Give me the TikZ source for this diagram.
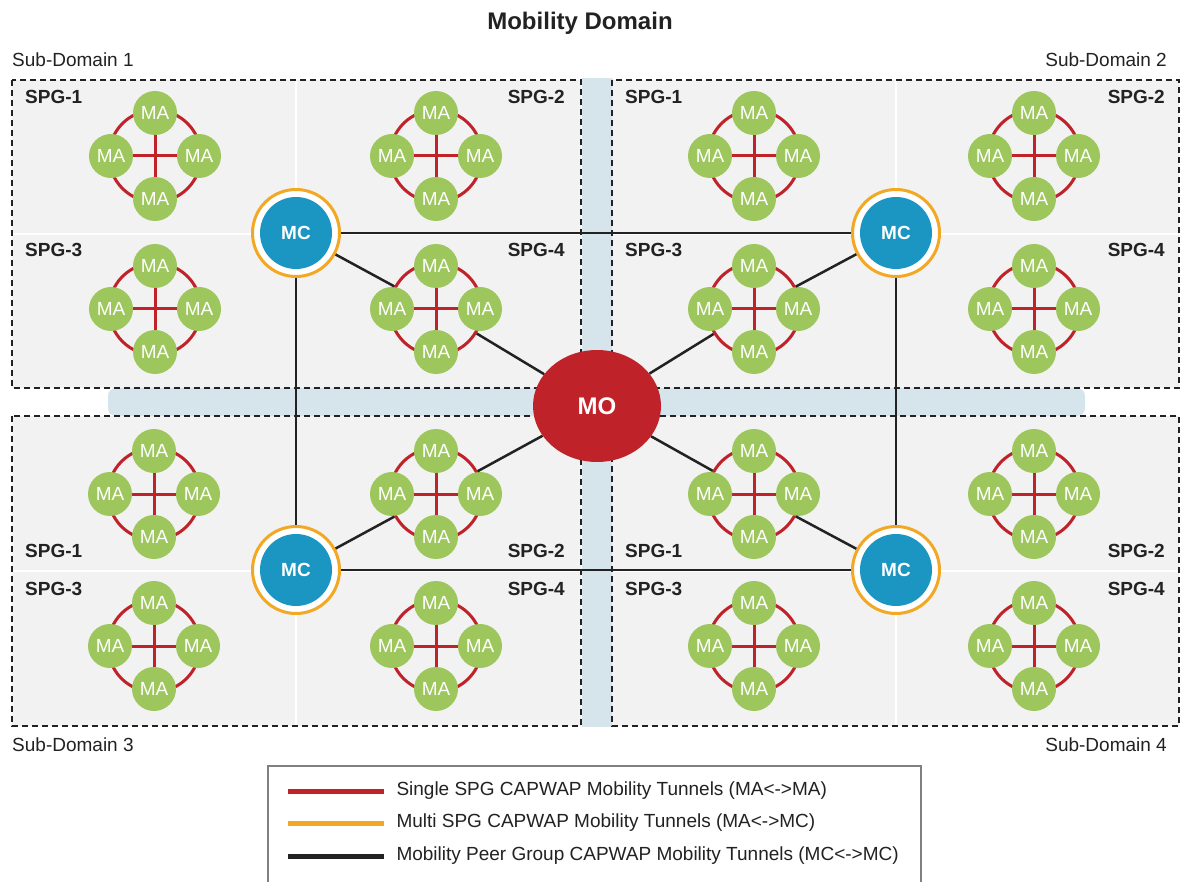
\documentclass[tikz,border=0pt]{standalone}
\usepackage{fontspec}
\setmainfont{Liberation Sans}
\usetikzlibrary{shapes.geometric}

\definecolor{magreen}{HTML}{9DC65C}
\definecolor{mcblue}{HTML}{1B96C3}
\definecolor{mcorange}{HTML}{F3A823}
\definecolor{tunred}{HTML}{BF2229}
\definecolor{bandblue}{HTML}{D6E4EC}
\definecolor{sdgray}{HTML}{F2F2F2}
\definecolor{peerblack}{HTML}{222222}

\newcommand{\fs}[1]{\fontsize{#1}{#1}\selectfont}

\tikzset{
  sdbox/.style={fill=sdgray, draw=peerblack, line width=2.2pt, dash pattern=on 6pt off 4pt},
  divider/.style={draw=white, line width=1.5pt},
  spglabel/.style={font=\fs{19}\bfseries, text=peerblack, inner sep=0pt},
  sdlabel/.style={font=\fs{19}, text=peerblack, inner sep=0pt},
  ring/.style={circle, draw=tunred, line width=3pt, minimum size=92pt, inner sep=0pt},
  ma/.style={circle, fill=magreen, minimum size=44pt, inner sep=0pt, text=white, font=\fs{19}},
  matunnel/.style={draw=tunred, line width=3pt},
  mcring/.style={circle, draw=mcorange, line width=3pt, fill=white, minimum size=87pt, inner sep=0pt},
  mcdisc/.style={circle, fill=mcblue, minimum size=72pt, inner sep=0pt, text=white, font=\fs{19}\bfseries},
  mo/.style={ellipse, fill=tunred, minimum width=128pt, minimum height=112pt, inner sep=0pt, text=white, font=\fs{24}\bfseries},
  peer/.style={draw=peerblack, line width=2.5pt},
}

% one SPG: four MA round a red ring
\newcommand{\spgcluster}[3]{%
  \node[ring] (#1) at (#2,#3) {};
  \node[ma] (#1-t) at (#2,#3-43) {MA};
  \node[ma] (#1-b) at (#2,#3+43) {MA};
  \node[ma] (#1-l) at (#2-44,#3) {MA};
  \node[ma] (#1-r) at (#2+44,#3) {MA};
  \draw[matunnel] (#1-t) -- (#1-b) (#1-l) -- (#1-r);
}

\begin{document}
\begin{tikzpicture}[x=1pt, y=-1pt]
            \clip (0,0) rectangle (1181,882);
            \fill[white] (0,0) rectangle (1181,882);
            \node[font=\fs{24}\bfseries, text=peerblack] (title) at (580,23) {Mobility Domain};
            % bands between the sub-domains
            \fill[bandblue] (582,78) rectangle (612,727);
            \fill[bandblue, rounded corners=8pt] (108,388) rectangle (1085,416);
            % sub-domains
            \draw[sdbox] (12,80) rectangle (581,388);
            \draw[sdbox] (612,80) rectangle (1179,388);
            \draw[sdbox] (12,416) rectangle (581,726);
            \draw[sdbox] (612,416) rectangle (1179,726);
            \draw[divider] (296,81) -- (296,387) (13,234) -- (580,234);
            \draw[divider] (896,81) -- (896,387) (613,234) -- (1178,234);
            \draw[divider] (296,417) -- (296,725) (13,571) -- (580,571);
            \draw[divider] (896,417) -- (896,725) (613,571) -- (1178,571);
            \node[sdlabel, anchor=west] (sd1) at (12,60) {Sub-Domain 1};
            \node[sdlabel, anchor=east] (sd2) at (1167,60) {Sub-Domain 2};
            \node[sdlabel, anchor=west] (sd3) at (12,745) {Sub-Domain 3};
            \node[sdlabel, anchor=east] (sd4) at (1167,745) {Sub-Domain 4};
            % SPG labels
            \node[spglabel, anchor=west] at (25,97) {SPG-1};
            \node[spglabel, anchor=east] at (565,97) {SPG-2};
            \node[spglabel, anchor=west] at (25,250) {SPG-3};
            \node[spglabel, anchor=east] at (565,250) {SPG-4};
            \node[spglabel, anchor=west] at (625,97) {SPG-1};
            \node[spglabel, anchor=east] at (1165,97) {SPG-2};
            \node[spglabel, anchor=west] at (625,250) {SPG-3};
            \node[spglabel, anchor=east] at (1165,250) {SPG-4};
            \node[spglabel, anchor=west] at (25,551) {SPG-1};
            \node[spglabel, anchor=east] at (565,551) {SPG-2};
            \node[spglabel, anchor=west] at (25,589) {SPG-3};
            \node[spglabel, anchor=east] at (565,589) {SPG-4};
            \node[spglabel, anchor=west] at (625,551) {SPG-1};
            \node[spglabel, anchor=east] at (1165,551) {SPG-2};
            \node[spglabel, anchor=west] at (625,589) {SPG-3};
            \node[spglabel, anchor=east] at (1165,589) {SPG-4};
            % SPG clusters
            \spgcluster{s1g1}{155}{156}
            \spgcluster{s1g2}{436}{156}
            \spgcluster{s1g3}{155}{309}
            \spgcluster{s1g4}{436}{309}
            \spgcluster{s2g1}{754}{156}
            \spgcluster{s2g2}{1034}{156}
            \spgcluster{s2g3}{754}{309}
            \spgcluster{s2g4}{1034}{309}
            \spgcluster{s3g1}{154}{494}
            \spgcluster{s3g2}{436}{494}
            \spgcluster{s3g3}{154}{646}
            \spgcluster{s3g4}{436}{646}
            \spgcluster{s4g1}{754}{494}
            \spgcluster{s4g2}{1034}{494}
            \spgcluster{s4g3}{754}{646}
            \spgcluster{s4g4}{1034}{646}
            % controllers and oracle
            \node[mcring] (mc1) at (296,233) {};
            \node[mcring] (mc2) at (896,233) {};
            \node[mcring] (mc3) at (296,570) {};
            \node[mcring] (mc4) at (896,570) {};
            \node[mo] (mo) at (597,406) {MO};
            \draw[peer] (mc1) -- (mc2) (mc3) -- (mc4) (mc1) -- (mc3) (mc2) -- (mc4);
            \draw[peer] (mc1) -- (s1g4) (mc2) -- (s2g3) (mc3) -- (s3g2) (mc4) -- (s4g1);
            \draw[peer] (mo) -- (s1g4) (mo) -- (s2g3) (mo) -- (s3g2) (mo) -- (s4g1);
            \node[mcdisc] (mc1in) at (mc1) {MC};
            \node[mcdisc] (mc2in) at (mc2) {MC};
            \node[mcdisc] (mc3in) at (mc3) {MC};
            \node[mcdisc] (mc4in) at (mc4) {MC};
            % legend
            \draw[gray, line width=1.2pt] (268,766) rectangle (921,900);
            \draw[tunred, line width=5pt] (288,791) -- (384,791) node[sdlabel, anchor=west, xshift=10pt] (leg1) {Single SPG CAPWAP Mobility Tunnels (MA<->MA)};
            \draw[mcorange, line width=5pt] (288,823) -- (384,823) node[sdlabel, anchor=west, xshift=10pt] (leg2) {Multi SPG CAPWAP Mobility Tunnels (MA<->MC)};
            \draw[peerblack, line width=5pt] (288,856) -- (384,856) node[sdlabel, anchor=west, xshift=10pt] (leg3) {Mobility Peer Group CAPWAP Mobility Tunnels (MC<->MC)};
        \end{tikzpicture}
\end{document}
